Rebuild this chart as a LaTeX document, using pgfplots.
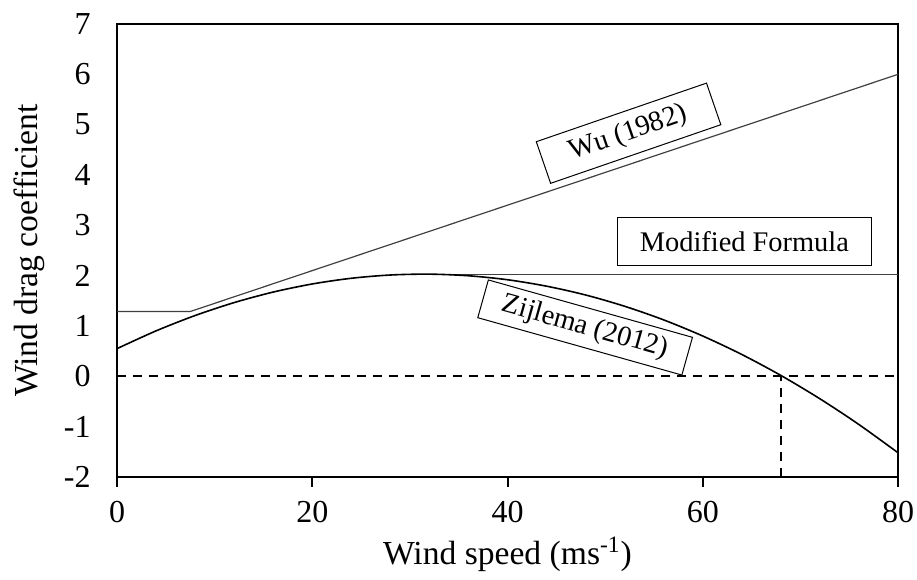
\documentclass[border=0pt]{standalone}
\usepackage{pgfplots}
\pgfplotsset{compat=1.18}
\usepackage{fontspec}
\setmainfont{Liberation Serif}

\begin{document}
\begin{tikzpicture}[box/.style={draw, line width=0.5pt, inner sep=0pt, font=\fontsize{14.2}{17}\selectfont}]
\begin{axis}[
  width=390.5pt, height=226.5pt, scale only axis,
  xmin=0, xmax=80, ymin=-2, ymax=7,
  xtick={0,20,40,60,80}, ytick={-2,-1,0,1,2,3,4,5,6,7},
  axis line style={line width=1pt},
  tick align=outside, xtick pos=left,
  major tick length=5pt,
  xtick style={line width=1pt, black},
  ytick style={draw=none},
  tick label style={font=\fontsize{16}{19}\selectfont},
  xticklabel style={yshift=-3.7pt},
  yticklabel style={xshift=-4.7pt},
  /pgf/number format/assume math mode=true,
]
% Wu (1982), with the constant part below 7.5 m/s
\addplot[black!75, line width=0.6pt] coordinates {(0,1.2875) (7.5,1.2875) (80,6.0)};
% modified formula, capped at the Zijlema maximum
\addplot[black!75, line width=0.6pt] coordinates {(31.5,2.03) (80,2.03)};
% Zijlema (2012)
\addplot[black, line width=0.8pt, smooth] coordinates {
  (0,0.550) (4,0.903) (8,1.208) (12,1.465) (16,1.674) (20,1.835)
  (24,1.948) (28,2.013) (32,2.030) (36,1.998) (40,1.919) (44,1.791)
  (48,1.616) (52,1.392) (56,1.121) (60,0.801) (64,0.434) (68,0.018)
  (72,-0.446) (76,-0.958) (80,-1.518)};
% zero line and crossing
\addplot[black, line width=1pt, dash pattern=on 4.5pt off 3.5pt] coordinates {(0,0) (80,0)};
\addplot[black, line width=1pt, dash pattern=on 4.5pt off 3.5pt] coordinates {(68,-2) (68,0)};

\node[box, rotate=19, minimum width=90pt, minimum height=22pt] at (axis cs:52.4,4.83) {Wu (1982)};
\node[box, minimum width=127.3pt, minimum height=24.3pt] at (axis cs:64.27,2.68) {Modified Formula};
\node[box, rotate=-15.7, minimum width=106pt, minimum height=19.6pt] at (axis cs:47.95,0.97) {Zijlema (2012)};
\end{axis}

\node[anchor=base, rotate=90, font=\fontsize{16.8}{20}\selectfont] at ([xshift=-40pt]current axis.west) {Wind drag coefficient};
\node[anchor=base, font=\fontsize{16.8}{20}\selectfont] at ([yshift=-44pt]current axis.south) {Wind speed (ms\textsuperscript{-1})};

\pgfresetboundingbox
\path ([xshift=-58.5pt, yshift=-51.5pt]current axis.south west) rectangle ([xshift=9.5pt, yshift=12pt]current axis.north east);
\end{tikzpicture}
\end{document}
